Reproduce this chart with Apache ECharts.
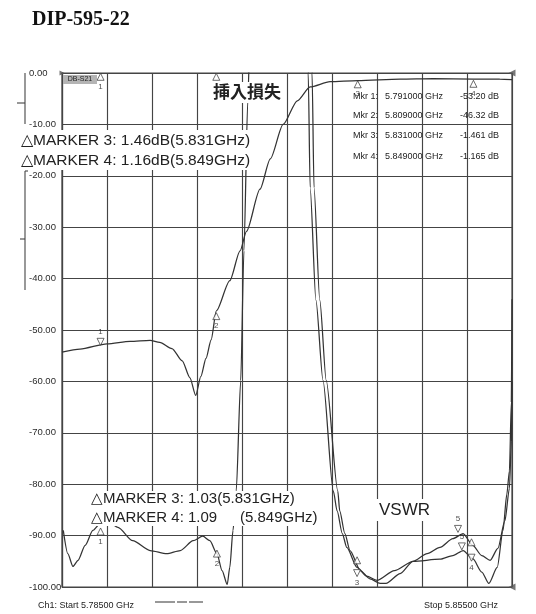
<!DOCTYPE html>
<html><head><meta charset="utf-8">
<script src="https://cdn.jsdelivr.net/npm/echarts@6/dist/echarts.min.js"></script>
<style>html,body{margin:0;padding:0;background:#fff}#c{width:536px;height:614px}</style>
</head><body><div id="c"></div>
<script>
// ---- sweep / axis ----
const START_GHZ = 5.785;
const STOP_GHZ = 5.855;
const X_DIV_MHZ = 7;
const Y_MIN = -100, Y_MAX = 0, Y_STEP = 10;

// ---- S21 insertion loss trace (GHz, dB) ----
const s21Freq = [5.7850,5.7878,5.7920,5.7956,5.7987,5.8002,5.8021,5.8037,5.8049,5.8058,5.8066,5.8074,5.8082,5.8090,5.8111,5.8127,5.8137,5.8158,5.8174,5.8194,5.8216,5.8236,5.8267,5.8310,5.8376,5.8427,5.8490,5.8531,5.8550];
const s21Loss = [-54.3,-53.7,-52.7,-52.2,-52.0,-52.4,-53.6,-56.0,-59.3,-62.7,-59.0,-55.5,-51.9,-46.3,-40.4,-34.6,-30.8,-22.6,-16.7,-10.0,-5.4,-2.7,-1.7,-1.46,-1.2,-1.1,-1.17,-1.2,-1.3];

// ---- VSWR trace 1 (GHz, display units) ----
const vswr1Freq = [5.7852,5.7859,5.7867,5.7875,5.7886,5.7898,5.7909,5.7922,5.7937,5.7960,5.7987,5.8013,5.8034,5.8054,5.8069,5.8080,5.8091,5.8099,5.8107,5.8111,5.8116,5.8121,5.8128,5.8133,5.8139,5.8143,
                   5.8231,5.8233,5.8236,5.8245,5.8256,5.8272,5.8278,5.8286,5.8293,5.8309,5.8324,5.8340,5.8367,5.8396,5.8438,5.8458,5.8474,5.8489,5.8503,5.8514,5.8527,5.8536,5.8542,5.8546,5.8549,5.8550];
const vswr1Val  = [-89.0,-93.5,-96.0,-94.8,-91.9,-89.0,-87.7,-87.3,-88.4,-91.0,-92.9,-93.5,-92.9,-91.0,-90.1,-91.0,-93.5,-96.8,-99.5,-96.2,-89.0,-81.3,-59.8,-34.6,-5.4,10,
                   10,0,-22.3,-44.2,-59.8,-81.3,-85.2,-89.6,-92.3,-96.2,-97.9,-98.7,-96.8,-95.0,-94.6,-93.9,-92.9,-94.5,-97.1,-99.3,-96.2,-89.0,-81.9,-77.4,-64,-44];

// ---- VSWR trace 2 ----
const vswr2Freq = [5.8237,5.8239,5.8242,5.8251,5.8261,5.8279,5.8282,5.8290,5.8298,5.8314,5.8329,5.8345,5.8354,5.8376,5.8396,5.8418,5.8438,5.8458,5.8474,5.8489,5.8503,5.8516,5.8528,5.8539,5.8546,5.8549,5.8550];
const vswr2Val  = [10,0,-22.3,-44.2,-59.8,-81.3,-85.2,-89.6,-92.9,-96.8,-98.4,-99.3,-99.3,-97.4,-95.0,-93.5,-92.3,-90.6,-89.6,-91.9,-93.9,-94.8,-92.5,-87.1,-80.8,-71.6,-60];

// ---- marker symbols ----
const upMkFreq  = [5.791, 5.809, 5.8090, 5.831, 5.849, 5.791, 5.8091, 5.8309, 5.8487];
const upMkVal   = [-0.74, -0.74, -47.3, -2.2, -2.1, -89.2, -93.5, -94.8, -91.3];
const upMkLabel = ['1', '', '2', '3', '4', '1', '2', '', ''];
const dnMkFreq  = [5.791, 5.8309, 5.8466, 5.8472, 5.8487];
const dnMkVal   = [-52.3, -97.3, -88.7, -92.1, -94.3];
const dnMkLabel = ['1', '3', '5', '5', '4'];
const dnMkPos   = ['top', 'bottom', 'top', 'top', 'bottom'];

// ---- marker table ----
const mkrIds   = ['Mkr 1:', 'Mkr 2:', 'Mkr 3:', 'Mkr 4:'];
const mkrFreqs = [5.791, 5.809, 5.831, 5.849];
const mkrLevels = ['-53.20 dB', '-46.32 dB', '-1.461 dB', '-1.165 dB'];

// ---- annotations ----
const lossNotes = ['\u25B3MARKER 3: 1.46dB(5.831GHz)', '\u25B3MARKER 4: 1.16dB(5.849GHz)'];
const vswrNotes = ['\u25B3MARKER 3: 1.03(5.831GHz)', '\u25B3MARKER 4: 1.09', '(5.849GHz)'];

const toX = f => +((f - START_GHZ) * 1000).toFixed(3);
const pairs = (fs, vs) => fs.map((f, i) => [toX(f), vs[i]]);

const SANS = '"Liberation Sans", Arial, sans-serif';
const INK = '#222';
const chart = echarts.init(document.getElementById('c'));

const graphics = [];
function rect(x, y, w, h, fill) { graphics.push({type:'rect', z:100, shape:{x, y, width:w, height:h}, style:{fill: fill || '#fff'}}); }
function text(x, y, t, font, align) { graphics.push({type:'text', z:101, x, y, style:{text:t, font, fill:INK, textAlign: align || 'left', textVerticalAlign:'middle'}}); }
function line(x1, y1, x2, y2) { graphics.push({type:'line', z:101, shape:{x1, y1, x2, y2}, style:{stroke:'#444', lineWidth:1.1}}); }

// loss note box
rect(20, 130, 228, 40);
text(21, 141, lossNotes[0], '15.5px ' + SANS);
text(21, 161, lossNotes[1], '15.5px ' + SANS);
// vswr note box
rect(89, 491, 227, 35);
text(91, 499, vswrNotes[0], '15px ' + SANS);
text(91, 518, vswrNotes[1], '15px ' + SANS);
text(240, 518, vswrNotes[2], '15px ' + SANS);
// titles in plot
rect(208, 82, 78, 21);
text(247, 92, '挿入損失', 'bold 17px "Noto Sans CJK JP"', 'center');
rect(376, 499, 57, 22);
text(379, 510, 'VSWR', '17px ' + SANS);
// marker table
mkrIds.forEach((id, i) => {
  const y = [96.7, 115.5, 136, 156.5][i];
  text(353, y, id, '9px ' + SANS);
  text(385, y, mkrFreqs[i].toFixed(6) + ' GHz', '9px ' + SANS);
  text(460, y, mkrLevels[i], '9px ' + SANS);
});
// trace label tag
rect(63, 75, 34, 9, '#b4b4b4');
text(80, 79.5, 'DB-S21', '7px ' + SANS, 'center');
// footer
text(38, 606, 'Ch1: Start ' + START_GHZ.toFixed(5) + ' GHz', '9px ' + SANS);
text(498, 606, 'Stop ' + STOP_GHZ.toFixed(5) + ' GHz', '9px ' + SANS, 'right');
line(155, 602, 175, 602); line(177, 602, 187, 602); line(189, 602, 203, 602);
// left bracket marks
line(25, 73, 25, 124); line(17, 103, 25, 103);
line(25, 171, 25, 290); line(25, 171, 28, 171); line(20, 239, 25, 239);

const traceStyle = {color:'#333', width:1.25};
const mkStyle = {color:'#fff', borderColor:'#333', borderWidth:0.9};
const mkLabel = {show:true, fontSize:8, color:INK, fontFamily:SANS, distance:2, formatter: p => p.name};

chart.setOption({
  animation:false,
  backgroundColor:'#fff',
  title:{text:'DIP-595-22', left:27, top:5, textStyle:{fontFamily:'"Liberation Serif", "Times New Roman", serif', fontSize:20, fontWeight:'bold', color:'#111'}},
  grid:{left:62, right:24, top:73, bottom:27, show:true, borderColor:'#444', borderWidth:1.2, backgroundColor:'transparent'},
  xAxis:{type:'value', min:0, max:toX(STOP_GHZ), interval:X_DIV_MHZ,
    axisLabel:{show:false}, axisTick:{show:false},
    axisLine:{lineStyle:{color:'#444', width:1.2}},
    splitLine:{show:true, lineStyle:{color:'#444', width:1.15}}},
  yAxis:{type:'value', min:Y_MIN, max:Y_MAX, interval:Y_STEP,
    axisLabel:{formatter: v => v.toFixed(2), align:'left', margin:33, fontSize:9.5, color:'#2a2a2a', fontFamily:SANS},
    axisTick:{show:false},
    axisLine:{lineStyle:{color:'#444', width:1.2}},
    splitLine:{show:true, lineStyle:{color:'#444', width:1.15}}},
  series:[
    {type:'line', name:'S21', data:pairs(s21Freq, s21Loss), showSymbol:false, smooth:0.25, smoothMonotone:'x', lineStyle:traceStyle, clip:true, z:3},
    {type:'line', name:'VSWR1', data:pairs(vswr1Freq, vswr1Val), showSymbol:false, smooth:0.25, smoothMonotone:'x', lineStyle:traceStyle, clip:true, z:3},
    {type:'line', name:'VSWR2', data:pairs(vswr2Freq, vswr2Val), showSymbol:false, smooth:0.25, smoothMonotone:'x', lineStyle:traceStyle, clip:true, z:3},
    {type:'scatter', name:'mkUp', symbol:'triangle', symbolSize:[7,7], itemStyle:mkStyle, z:5,
      label:Object.assign({position:'bottom'}, mkLabel),
      data:upMkFreq.map((f, i) => ({value:[toX(f), upMkVal[i]], name:upMkLabel[i]}))},
    {type:'scatter', name:'mkDn', symbol:'triangle', symbolRotate:180, symbolSize:[7,7], itemStyle:mkStyle, z:5,
      label:mkLabel,
      data:dnMkFreq.map((f, i) => ({value:[toX(f), dnMkVal[i]], name:dnMkLabel[i], label:{position:dnMkPos[i]}}))},
    {type:'scatter', name:'ref', symbol:'triangle', symbolSize:7, symbolRotate:90, itemStyle:{color:'#555'}, z:6, clip:false,
      data:[[toX(STOP_GHZ), Y_MAX], [toX(STOP_GHZ), Y_MIN]]},
    {type:'scatter', name:'refL', symbol:'triangle', symbolSize:5, symbolRotate:-90, itemStyle:{color:'#555'}, z:6, clip:false,
      data:[[0, Y_MAX]]}
  ],
  graphic:graphics
});
</script></body></html>
